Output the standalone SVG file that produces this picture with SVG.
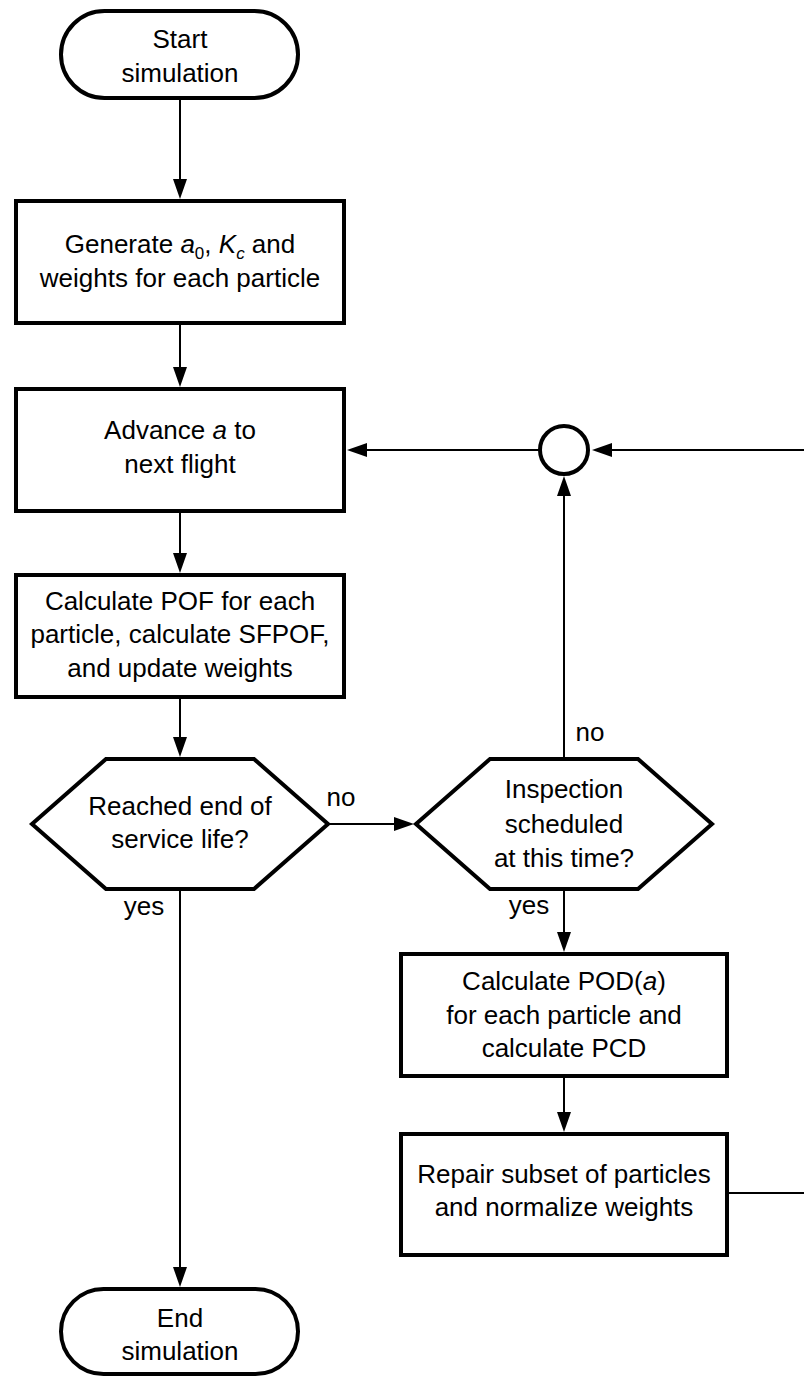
<svg xmlns="http://www.w3.org/2000/svg" width="804" height="1376" viewBox="0 0 804 1376">
<style>
.shape{fill:#fff;stroke:#000;stroke-width:4}
.t{font-family:"Liberation Sans",Arial,sans-serif;font-size:26px;fill:#000;text-anchor:middle}
.lbl{font-family:"Liberation Sans",Arial,sans-serif;font-size:26px;fill:#000;text-anchor:middle}
.c{fill:none;stroke:#000;stroke-width:2}
.i{font-style:italic}
</style>
<defs>
<marker id="arr" markerUnits="userSpaceOnUse" markerWidth="20" markerHeight="14" refX="16" refY="7" orient="auto">
<path d="M0,0 L20,7 L0,14 z" fill="#000"/>
</marker>
</defs>
<rect width="804" height="1376" fill="#fff"/>
<g id="connectors">
<line class="c" x1="180" y1="100" x2="180" y2="195" marker-end="url(#arr)"/>
<line class="c" x1="180" y1="325" x2="180" y2="383" marker-end="url(#arr)"/>
<line class="c" x1="180" y1="513" x2="180" y2="569" marker-end="url(#arr)"/>
<line class="c" x1="180" y1="699" x2="180" y2="753" marker-end="url(#arr)"/>
<line class="c" x1="330" y1="824" x2="410" y2="824" marker-end="url(#arr)"/>
<line class="c" x1="180" y1="891" x2="180" y2="1283" marker-end="url(#arr)"/>
<line class="c" x1="564" y1="757" x2="564" y2="480" marker-end="url(#arr)"/>
<line class="c" x1="540" y1="450" x2="351" y2="450" marker-end="url(#arr)"/>
<line class="c" x1="564" y1="891" x2="564" y2="948" marker-end="url(#arr)"/>
<line class="c" x1="564" y1="1078" x2="564" y2="1128" marker-end="url(#arr)"/>
<polyline class="c" points="729,1193 820,1193 820,450 596,450" marker-end="url(#arr)"/>
<text class="lbl" x="341" y="806">no</text>
<text class="lbl" x="590" y="741">no</text>
<text class="lbl" x="144" y="915">yes</text>
<text class="lbl" x="529" y="914">yes</text>
</g>
<g id="start">
<rect class="shape" x="61" y="11" width="237" height="87" rx="43.5" ry="43.5"/>
<text class="t" x="180" y="48">Start</text>
<text class="t" x="180" y="82">simulation</text>
</g>
<g id="generate">
<rect class="shape" x="16" y="201" width="328" height="122"/>
<text class="t" x="180" y="253">Generate <tspan class="i">a</tspan><tspan font-size="17" dy="6">0</tspan><tspan dy="-6">, </tspan><tspan class="i">K</tspan><tspan class="i" font-size="17" dy="6">c</tspan><tspan dy="-6"> and</tspan></text>
<text class="t" x="180" y="287">weights for each particle</text>
</g>
<g id="advance">
<rect class="shape" x="16" y="389" width="328" height="122"/>
<text class="t" x="180" y="439">Advance <tspan class="i">a</tspan> to</text>
<text class="t" x="180" y="473">next flight</text>
</g>
<g id="junction">
<circle class="shape" cx="564" cy="450" r="24"/>
</g>
<g id="pof">
<rect class="shape" x="16" y="575" width="328" height="122"/>
<text class="t" x="180" y="610">Calculate POF for each</text>
<text class="t" x="180" y="643">particle, calculate SFPOF,</text>
<text class="t" x="180" y="677">and update weights</text>
</g>
<g id="endlife">
<polygon class="shape" points="32,824 106,759 254,759 328,824 254,889 106,889"/>
<text class="t" x="180" y="815">Reached end of</text>
<text class="t" x="180" y="848">service life?</text>
</g>
<g id="inspection">
<polygon class="shape" points="416,824 490,759 638,759 712,824 638,889 490,889"/>
<text class="t" x="564" y="798">Inspection</text>
<text class="t" x="564" y="833">scheduled</text>
<text class="t" x="564" y="867">at this time?</text>
</g>
<g id="pod">
<rect class="shape" x="401" y="954" width="326" height="122"/>
<text class="t" x="564" y="990">Calculate POD(<tspan class="i">a</tspan>)</text>
<text class="t" x="564" y="1024">for each particle and</text>
<text class="t" x="564" y="1057">calculate PCD</text>
</g>
<g id="repair">
<rect class="shape" x="401" y="1134" width="326" height="121"/>
<text class="t" x="564" y="1183">Repair subset of particles</text>
<text class="t" x="564" y="1216">and normalize weights</text>
</g>
<g id="end">
<rect class="shape" x="61" y="1289" width="237" height="85" rx="42.5" ry="42.5"/>
<text class="t" x="180" y="1327">End</text>
<text class="t" x="180" y="1360">simulation</text>
</g>
</svg>
